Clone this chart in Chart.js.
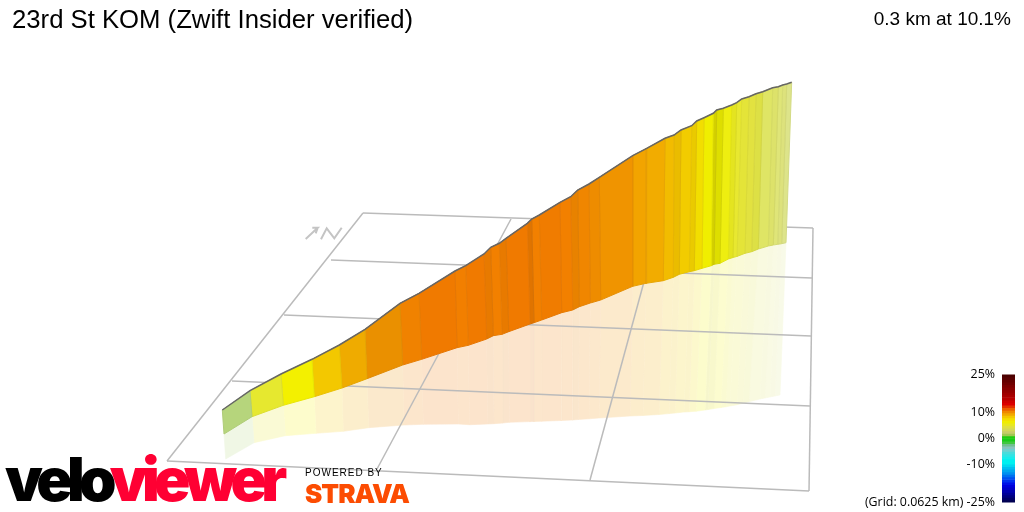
<!DOCTYPE html>
<html>
<head>
<meta charset="utf-8">
<title>23rd St KOM</title>
<script src="https://cdn.jsdelivr.net/npm/chart.js@4"></script>
<style>
  html, body { margin: 0; padding: 0; background: #fff; }
  #wrap { position: relative; width: 1024px; height: 512px; overflow: hidden; font-family: "Liberation Sans", sans-serif; }
  #profile { position: absolute; left: 0; top: 0; }
  #scaleBar { position: absolute; left: 860px; top: 360px; }
  .txt { position: absolute; white-space: nowrap; color: #000; }
  #title { left: 12px; top: 5px; font-size: 25.7px; }
  #summary { right: 13px; top: 8px; font-size: 19px; }
  #logo { left: 5px; top: 443px; font: 900 60px Inter, sans-serif; letter-spacing: -5.7px; line-height: 72px; }
  #logo span { color: #ff0033; }
  #powered { left: 305px; top: 467px; font-size: 10px; letter-spacing: 1px; }
  #strava { left: 305px; top: 478px; font: 900 26px Inter, sans-serif; letter-spacing: -1px; color: #fc4c02; }
</style>
</head>
<body>
<div id="wrap">
  <canvas id="profile" width="1024" height="512"></canvas>
  <canvas id="scaleBar" width="164" height="157"></canvas>
  <div class="txt" id="title">23rd St KOM (Zwift Insider verified)</div>
  <div class="txt" id="summary">0.3 km at 10.1%</div>
  <div class="txt" id="logo">velo<span>viewer</span></div>
  <div class="txt" id="powered">POWERED BY</div>
  <div class="txt" id="strava">STRAVA</div>
</div>
<script>
const topX = [222.3,250,281,312,339.3,365,400,419,455,465.7,484,490.7,499.3,506,527.3,531.7,539.3,560,570.7,577.7,589,599.3,632.7,646.7,665,674,681,691.7,696.7,704,713.3,716.7,723.3,731.7,736.7,741.7,749,756,762.7,772.7,778.3,782.7,786.7,791.7];
const topY = [410,390.7,374,359.3,345,329.3,303.3,293.3,271,265.7,254,247.3,243.3,238.3,223.3,219,215,202.3,196.7,190,184,177.3,155.7,148.3,138.3,135,130,125.7,121,117.7,113.3,110,108.3,105,102.7,99,96.7,93.7,91.7,87.7,86.7,85,84,82.3];
const baseX = [224,252,283.3,314.3,342,367,402.7,421.7,457,468.3,486.7,493.3,502,508.7,530,534,541.7,561.7,572.7,579.3,590.3,600.7,632.7,646,663.3,673.3,679.3,689.3,694.3,702,711.3,714,720,728.3,733,737,745,751.7,758.3,768.3,773.3,777.7,781.7,786];
const baseY = [434,416.7,405.3,396.7,388,378.7,365,359.3,347.7,345.3,339,335.7,334.3,331.7,324,322.7,320,312.7,310,306.7,303,300,286.3,283.3,280.7,277.3,274.3,271.7,270.7,268.3,265.7,264.3,263.3,259,257.5,256.4,253.3,251.7,249,246,245,244.3,243.7,242.7];
const shadowX = [225.7,254,285.3,316,343.3,368.7,404,423.3,458.3,469.5,487.5,494,502.7,509.3,530,534,541.5,561,572,578.5,589,599,630,643,659,669,675,684,689,696,705,708,714,721,726,730,737,743,749,760,765,770,775,780];
const shadowY = [459,442.7,435.7,433.3,431.3,427.7,425,424.3,424,424.7,424,423.7,423,422.3,421.6,421.5,421.2,420.5,420,419.5,418.8,418,416,415.5,414.5,413.6,413,412,411.8,411.2,410,409.6,408.5,407.5,406.8,406,404.8,403.2,401.7,399,398,397,396,395];
const bandColors = ['#b6d57c','#e6e82f','#f3f000','#f3c800','#efab00','#ea9000','#f08200','#f07a00','#f27f00','#f07a00','#e87a00','#f28000','#e87a00','#f07a00','#e07400','#f28000','#f07c00','#f28000','#e88200','#f08600','#ee8c00','#f09400','#f2a400','#f2ac00','#f2bc00','#eabc00','#f2cc00','#eaca00','#f2de00','#f0ee00','#d4d000','#dede00','#eeee10','#e4e420','#e8e830','#e4e438','#e2e240','#dde045','#dfe565','#dde26a','#dfe578','#dde27c','#dde48a'];

const gridFromX = [363,813,809,167,331,284,232,511,660];
const gridFromY = [213,228,491,461,260,315,381,219,223];
const gridToX = [813,809,167,363,812,811,810,377,590];
const gridToY = [228,491,461,213,278,336,406,469,480];

const arrowX = [305.7,317.7,312.3,317.7,315.7];
const arrowY = [239,227.7,227.7,227.7,233.3];
const northX = [321,326.7,334.3,341.7];
const northY = [239.3,228.3,238.3,227.7];

const scaleTicks = [25,10,0,-10,-25];
const scaleFrom = [24,23,22,21,20,19,18,17,16,15,14,13,12,11,10,9,8,7,6,5,4,3,2,1,0,-1,-2,-3,-4,-5,-6,-7,-8,-9,-10,-11,-12,-13,-14,-15,-16,-17,-18,-19,-20,-21,-22,-23,-24,-25];
const scaleColors = ['#4b0000','#580000','#640000','#700000','#7c0000','#880000','#940000','#a00000','#ac0000','#b80000','#d00000','#dc0000','#e43000','#ec6000','#f08800','#f2a800','#f4c800','#f4e000','#f0ec00','#e8e820','#e0e040','#d4d858','#c8cc68','#a0c850','#20cc10','#18cc18','#40c840','#70c090','#88c4c0','#70d0d0','#48dcdc','#30e4e4','#18ecec','#00f0f0','#00f0f0','#00d8f0','#00c0f0','#00a8f0','#0090f0','#0070f0','#0050f0','#0030f0','#0010e8','#0000dc','#0000c8','#0000b0','#000098','#000080','#000068','#000050'];

function toPoints(xs, ys) {
  return xs.map((x, i) => ({ x: x, y: ys[i] }));
}

function lineSet(points, color, width) {
  return { data: points, showLine: true, fill: false, borderColor: color, borderWidth: width, pointRadius: 0, tension: 0 };
}

function bandSet(xa, ya, xb, yb, i, color, edge, edgeWidth) {
  return {
    data: [
      { x: xa[i], y: ya[i] }, { x: xa[i + 1], y: ya[i + 1] },
      { x: xb[i + 1], y: yb[i + 1] }, { x: xb[i], y: yb[i] }, { x: xa[i], y: ya[i] }
    ],
    showLine: true, fill: 'shape', backgroundColor: color, borderColor: edge, borderWidth: edgeWidth, pointRadius: 0, tension: 0
  };
}

// mix with a flat colour, opaque so neighbouring bands leave no seams
function mix(hex, other, a) {
  const n = parseInt(hex.slice(1), 16);
  const ch = [n >> 16, (n >> 8) & 255, n & 255].map(v => Math.round(v * a + other * (1 - a)));
  return `rgb(${ch[0]},${ch[1]},${ch[2]})`;
}

// first dataset ends up on top
const datasets = [];
datasets.push(lineSet(toPoints(topX, topY), '#666', 1.5));
bandColors.forEach((c, i) => {
  datasets.push(bandSet(topX, topY, baseX, baseY, i, c, mix(c, 60, 0.94), 1));
});
gridFromX.forEach((x, i) => {
  datasets.push(lineSet([{ x: x, y: gridFromY[i] }, { x: gridToX[i], y: gridToY[i] }], '#bbb', 1.5));
});
datasets.push(lineSet(toPoints(arrowX, arrowY), '#c4c4c4', 2));
datasets.push(lineSet(toPoints(northX, northY), '#c4c4c4', 2));
bandColors.forEach((c, i) => {
  const tint = mix(c, 255, 0.2);
  datasets.push(bandSet(baseX, baseY, shadowX, shadowY, i, tint, tint, 0.6));
});

new Chart(document.getElementById('profile'), {
  type: 'scatter',
  data: { datasets: datasets },
  options: {
    responsive: false,
    animation: false,
    plugins: { legend: { display: false }, tooltip: { enabled: false } },
    scales: {
      x: { type: 'linear', min: 0, max: 1024, display: false },
      y: { type: 'linear', min: 0, max: 512, reverse: true, display: false }
    }
  }
});

new Chart(document.getElementById('scaleBar'), {
  type: 'bar',
  data: {
    labels: ['grade'],
    datasets: scaleFrom.map((from, i) => ({
      data: [[from, from + 1]],
      backgroundColor: scaleColors[i],
      grouped: false,
      barPercentage: 1,
      categoryPercentage: 1
    }))
  },
  options: {
    responsive: false,
    animation: false,
    layout: { autoPadding: false, padding: { top: 5, bottom: 5, right: 9 } },
    plugins: { legend: { display: false }, tooltip: { enabled: false } },
    scales: {
      x: { display: false },
      y: {
        min: -25, max: 25,
        grid: { display: false, tickLength: 0 },
        border: { display: false },
        afterBuildTicks: scale => { scale.ticks = scaleTicks.map(v => ({ value: v })); },
        afterFit: scale => { scale.width = 142; },
        ticks: {
          autoSkip: false,
          padding: 7,
          color: '#000',
          font: { family: 'Open Sans', size: 12.4 },
          callback: v => v === -25 ? '(Grid: 0.0625 km) -25%' : v + '%'
        }
      }
    }
  }
});
</script>
</body>
</html>
